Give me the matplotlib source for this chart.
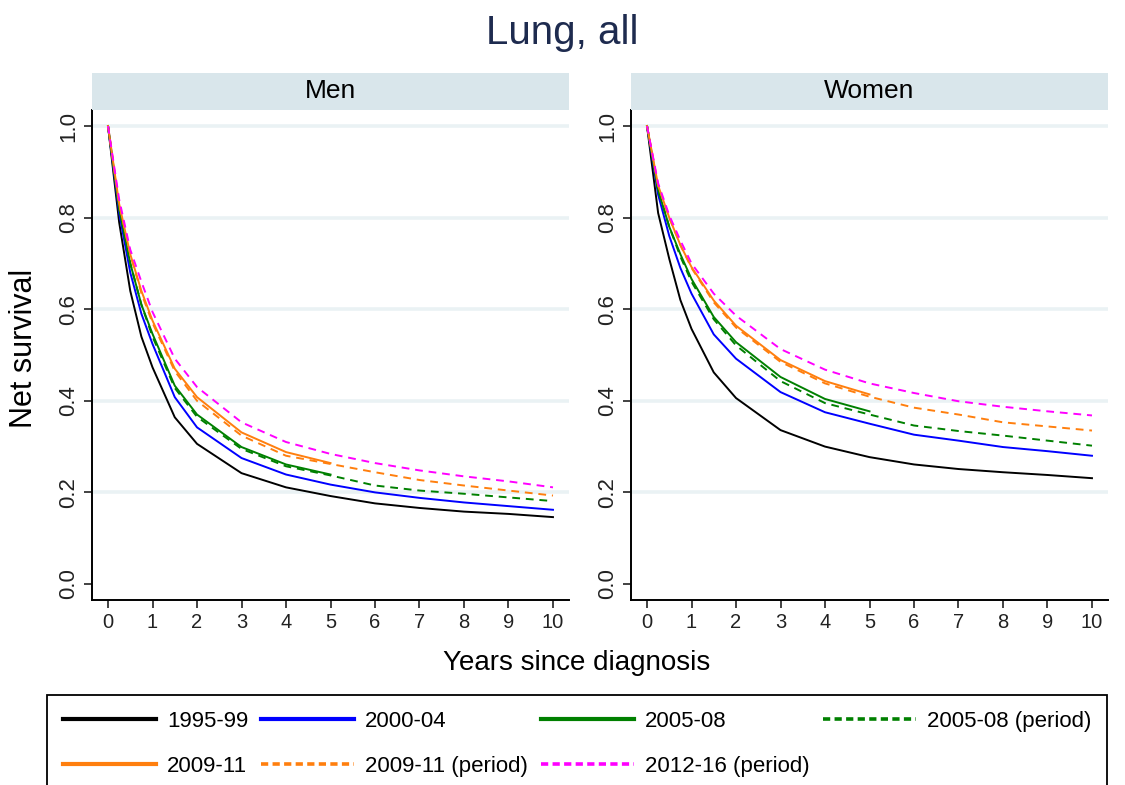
import numpy as np
import matplotlib
matplotlib.use("Agg")
import matplotlib.pyplot as plt
from matplotlib.lines import Line2D

plt.rcParams['font.family'] = ['Liberation Sans', 'DejaVu Sans']

# years since diagnosis
t_full = [0, 0.25, 0.5, 0.75, 1, 1.5, 2, 3, 4, 5, 6, 7, 8, 9, 10]
t_5 = [0, 0.25, 0.5, 0.75, 1, 1.5, 2, 3, 4, 5]

# Men
men_1995 = [1, 0.79, 0.64, 0.54, 0.473, 0.364, 0.306, 0.242, 0.211, 0.192, 0.176, 0.166, 0.158, 0.153, 0.146]
men_2000 = [1, 0.81, 0.68, 0.59, 0.524, 0.408, 0.342, 0.275, 0.239, 0.217, 0.200, 0.188, 0.178, 0.170, 0.162]
men_2005 = [1, 0.82, 0.70, 0.61, 0.546, 0.433, 0.370, 0.299, 0.261, 0.239]
men_2005p = [1, 0.82, 0.70, 0.61, 0.540, 0.428, 0.365, 0.295, 0.257, 0.237, 0.215, 0.204, 0.197, 0.189, 0.181]
men_2009 = [1, 0.83, 0.72, 0.64, 0.575, 0.470, 0.408, 0.331, 0.288, 0.264]
men_2009p = [1, 0.83, 0.72, 0.635, 0.570, 0.465, 0.400, 0.324, 0.280, 0.262, 0.244, 0.227, 0.215, 0.204, 0.193]
men_2012p = [1, 0.84, 0.73, 0.66, 0.594, 0.492, 0.430, 0.353, 0.310, 0.284, 0.264, 0.248, 0.235, 0.224, 0.211]

# Women
wom_1995 = [1, 0.81, 0.71, 0.62, 0.557, 0.462, 0.406, 0.336, 0.300, 0.277, 0.261, 0.251, 0.244, 0.238, 0.231]
wom_2000 = [1, 0.85, 0.76, 0.69, 0.634, 0.545, 0.492, 0.419, 0.375, 0.350, 0.326, 0.313, 0.299, 0.290, 0.280]
wom_2005 = [1, 0.86, 0.78, 0.72, 0.666, 0.583, 0.528, 0.452, 0.404, 0.377]
wom_2005p = [1, 0.86, 0.78, 0.715, 0.660, 0.578, 0.521, 0.443, 0.395, 0.370, 0.346, 0.334, 0.324, 0.313, 0.302]
wom_2009 = [1, 0.87, 0.80, 0.74, 0.692, 0.619, 0.564, 0.489, 0.443, 0.414]
wom_2009p = [1, 0.87, 0.80, 0.74, 0.690, 0.615, 0.560, 0.485, 0.438, 0.409, 0.385, 0.370, 0.353, 0.344, 0.335]
wom_2012p = [1, 0.875, 0.805, 0.75, 0.700, 0.634, 0.586, 0.513, 0.468, 0.438, 0.417, 0.399, 0.387, 0.377, 0.368]

labels = ['1995-99', '2000-04', '2005-08', '2005-08 (period)',
          '2009-11', '2009-11 (period)', '2012-16 (period)']
colors = ['black', '#0000ff', '#008000', '#008000', '#ff7f0e', '#ff7f0e', '#ff00ff']
dashed = [False, False, False, True, False, True, True]

panels = [
    ('Men', [men_1995, men_2000, men_2005, men_2005p, men_2009, men_2009p, men_2012p]),
    ('Women', [wom_1995, wom_2000, wom_2005, wom_2005p, wom_2009, wom_2009p, wom_2012p]),
]

W, H = 1125, 785
fig = plt.figure(figsize=(W / 100, H / 100), dpi=100)

lefts = [92, 631]
ax_w = 477
for (name, series), left in zip(panels, lefts):
    ax = fig.add_axes([left / W, (H - 600) / H, ax_w / W, 490 / H])
    for y in [0.2, 0.4, 0.6, 0.8, 1.0]:
        ax.axhline(y, color='#eaf2f4', lw=2.6, zorder=0)
    for vals, c, d in zip(series, colors, dashed):
        t = t_full if len(vals) == len(t_full) else t_5
        if d:
            ax.plot(t, vals, color=c, lw=1.4, dashes=(4, 3))
        else:
            ax.plot(t, vals, color=c, lw=1.4)
    ax.set_xlim(-0.36, 10.36)
    ax.set_ylim(-0.035, 1.035)
    ax.set_xticks(range(0, 11))
    ax.set_yticks([0, 0.2, 0.4, 0.6, 0.8, 1.0])
    ax.set_yticklabels(['0.0', '0.2', '0.4', '0.6', '0.8', '1.0'], rotation=90, va='center')
    ax.tick_params(direction='out', length=6, width=1.2, labelsize=14.5, pad=3, colors='#222222')
    ax.tick_params(axis='y', labelsize=16)
    for s in ['top', 'right']:
        ax.spines[s].set_visible(False)
    for s in ['left', 'bottom']:
        ax.spines[s].set_linewidth(1.4)
    # strip header
    sax = fig.add_axes([left / W, (H - 110) / H, ax_w / W, 37 / H])
    sax.set_facecolor('#d9e6eb')
    sax.set_xticks([])
    sax.set_yticks([])
    for s in sax.spines.values():
        s.set_visible(False)
    sax.text(0.5, 0.5, name, ha='center', va='center', fontsize=19, transform=sax.transAxes)

fig.text(0.5, 1 - 33 / H, 'Lung, all', ha='center', va='center', fontsize=29, color='#1e2b4f')
fig.text(24 / W, 1 - 348 / H, 'Net survival', ha='center', va='center', rotation=90, fontsize=22)
fig.text(577 / W, 1 - 663 / H, 'Years since diagnosis', ha='center', va='center', fontsize=20)

handles = []
for c, d in zip(colors, dashed):
    if d:
        handles.append(Line2D([], [], color=c, lw=2.6, dashes=(2, 1.2)))
    else:
        handles.append(Line2D([], [], color=c, lw=3))

# matplotlib fills legend columns first; reorder so rows read like the original
order = [0, 4, 1, 5, 2, 6, 3]
leg = fig.legend([handles[i] for i in order], [labels[i] for i in order], ncol=4,
                 loc='upper left', bbox_to_anchor=(47 / W, 1 - 695 / H, 1060 / W, 0),
                 mode='expand', borderaxespad=0,
                 fontsize=16, handlelength=4.2, handletextpad=0.5, columnspacing=0.4,
                 labelspacing=1.1, borderpad=0.7, fancybox=False, framealpha=1)
leg.get_frame().set_edgecolor('black')
leg.get_frame().set_linewidth(1.3)

fig.savefig('out.png', dpi=100)
